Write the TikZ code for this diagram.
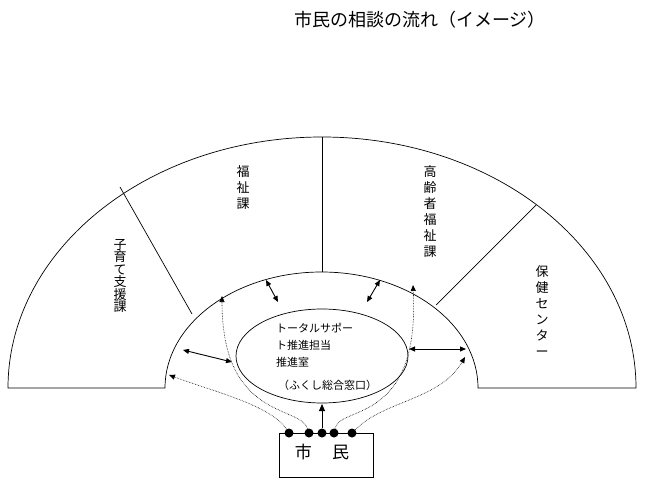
\documentclass[tikz,border=0pt]{standalone}
\usepackage{fontspec}
\newfontfamily\jp{Noto Sans CJK JP}
\usetikzlibrary{arrows.meta}
\begin{document}
\begin{tikzpicture}[x=1pt,y=-1pt,
  ln/.style={line width=0.7pt},
  dbl/.style={line width=0.9pt,{Triangle[length=6pt,width=5pt]}-{Triangle[length=6pt,width=5pt]}},
  dot/.style={circle,fill,inner sep=0pt,minimum size=9pt},
  dots/.style={densely dotted,line width=0.6pt,-{Triangle[length=6pt,width=5pt]}},
  vt/.style={font=\jp\fontsize{13}{16}\selectfont,align=center,inner sep=0pt,anchor=north},
  it/.style={font=\jp\fontsize{11}{17}\selectfont,anchor=west,inner sep=0pt}]
\useasboundingbox (0,0) rectangle (656,484);
\node[font=\jp\fontsize{18}{20}\selectfont] (title) at (420,20) {市民の相談の流れ（イメージ）};
% fan
\draw[ln] (8,388) arc[start angle=180,end angle=0,x radius=314,y radius=-251] -- (478,388)
  arc[start angle=0,end angle=180,x radius=156.5,y radius=-116] -- cycle;
\draw[ln] (322,137) -- (322,272);
\draw[ln] (120,187) -- (192,314);
\draw[ln] (536,205) -- (436,305);
% labels
\node[vt,font=\jp\fontsize{13}{12.5}\selectfont] (l1) at (120,239) {子\\育\\て\\支\\援\\課};
\node[vt] (l2) at (243,165) {福\\祉\\課};
\node[vt] (l3) at (430,165) {高\\齢\\者\\福\\祉\\課};
\node[vt] (l4) at (542,265) {保\\健\\セ\\ン\\タ\\ー};
% center
\draw[ln] (322,356) ellipse[x radius=86,y radius=47];
\node (ell) at (322,356) [minimum width=172pt,minimum height=94pt,inner sep=0pt] {};
\node[it] (t1) at (276,328) {トータルサポー};
\node[it] (t2) at (276,345) {ト推進担当};
\node[it] (t3) at (276,362) {推進室};
\node[it] (t4) at (278,385) {（ふくし総合窓口）};
% box
\draw[ln] (279,433) rectangle (373,477);
\node[font=\jp\fontsize{17}{20}\selectfont] (shimin) at (322,452) {市\hspace{1.2em}民};
\foreach \n/\x in {d1/289,d2/309,d3/322,d4/334,d5/352} \node[dot] (\n) at (\x,433) {};
% arrows
\coordinate (a1) at (183,350); \coordinate (b1) at (232,362);
\coordinate (a2) at (409,349); \coordinate (b2) at (466,349);
\coordinate (a3) at (266,280); \coordinate (b3) at (278,302);
\coordinate (a4) at (380,280); \coordinate (b4) at (367,302);
\draw[dbl] (a1) -- (b1);
\draw[dbl] (a2) -- (b2);
\draw[dbl] (a3) -- (b3);
\draw[dbl] (a4) -- (b4);
\coordinate (e) at (322,404);
\draw[line width=0.9pt,-{Triangle[length=7pt,width=6pt]}] (d3) -- (e);
\coordinate (p1) at (169,375); \coordinate (p2) at (222,296);
\coordinate (p3) at (413,285); \coordinate (p4) at (465,357);
\draw[dots] (d1) .. controls (270,405) and (215,392) .. (p1);
\draw[dots] (d2) .. controls (300,405) and (222,420) .. (p2);
\draw[dots] (d4) .. controls (340,405) and (420,425) .. (p3);
\draw[dots] (d5) .. controls (385,400) and (440,400) .. (p4);
\end{tikzpicture}
\end{document}
